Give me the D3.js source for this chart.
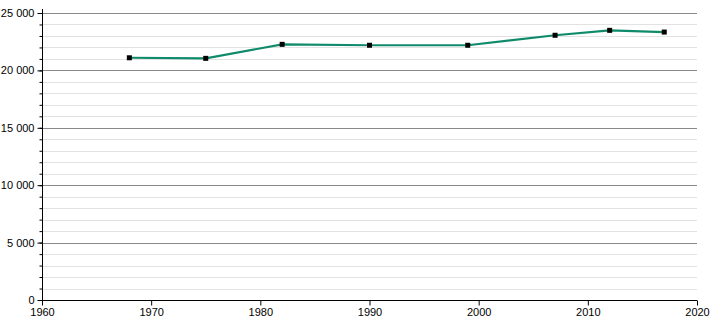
<!DOCTYPE html>
<html>
<head>
<meta charset="utf-8">
<style>
    body { margin: 0; background: #fff; }
    svg text { font-family: "Liberation Sans", Arial, sans-serif; font-size: 11px; fill: #000; }
</style>
</head>
<body>
<div id="chart"></div>
<script src="https://cdn.jsdelivr.net/npm/d3@7"></script>
<script>
    var width = 710, height = 320;
    var margin = {top: 13, right: 13, bottom: 20, left: 42};

    // census years and population
    var years = [1968, 1975, 1982, 1990, 1999, 2007, 2012, 2017];
    var population = [21100, 21050, 22270, 22190, 22190, 23060, 23490, 23340];

    var xTicks = [1960, 1970, 1980, 1990, 2000, 2010, 2020];
    var yMajor = [0, 5000, 10000, 15000, 20000, 25000];
    var yMinor = d3.range(0, 25001, 1000);

    var svg = d3.select('#chart')
        .append('svg')
        .attr('width', width)
        .attr('height', height);

    var x = d3.scaleLinear()
        .domain([1960, 2020])
        .range([margin.left, width - margin.right]);

    var y = d3.scaleLinear()
        .domain([0, 25000])
        .range([height - margin.bottom, margin.top]);

    var fmt = function(d){ return d3.format(',')(d).replace(/,/g, ' '); };

    // minor grid
    svg.append('g').selectAll('line')
        .data(yMinor.filter(function(d){ return d % 5000 != 0; }))
        .enter().append('line')
        .attr('x1', x(1960)).attr('x2', x(2020))
        .attr('y1', function(d){ return Math.round(y(d)) + 0.5; })
        .attr('y2', function(d){ return Math.round(y(d)) + 0.5; })
        .attr('stroke', '#e2e2e2');

    // major grid
    svg.append('g').selectAll('line')
        .data(yMajor.filter(function(d){ return d > 0; }))
        .enter().append('line')
        .attr('x1', x(1960)).attr('x2', x(2020))
        .attr('y1', function(d){ return Math.round(y(d)) + 0.5; })
        .attr('y2', function(d){ return Math.round(y(d)) + 0.5; })
        .attr('stroke', '#8a8a8a');

    // y axis with minor ticks
    var yAxisMinor = d3.axisLeft(y).tickValues(yMinor).tickSize(3).tickFormat('');
    svg.append('g')
        .attr('transform', 'translate(' + (x(1960) + 0.5) + ',0)')
        .call(yAxisMinor)
        .call(function(g){ g.select('.domain').remove(); });

    var yAxis = d3.axisLeft(y).tickValues(yMajor).tickSize(5).tickPadding(3).tickFormat(fmt);
    svg.append('g')
        .attr('transform', 'translate(' + (x(1960) + 0.5) + ',0)')
        .call(yAxis)
        .call(function(g){
            g.select('.domain').attr('d', 'M0,' + (margin.top - 4) + 'V' + (height - margin.bottom));
        });

    var xAxis = d3.axisBottom(x).tickValues(xTicks).tickSize(5).tickPadding(3).tickFormat(d3.format('d'));
    svg.append('g')
        .attr('transform', 'translate(0,' + (Math.round(y(0)) + 0.5) + ')')
        .call(xAxis)
        .call(function(g){ g.select('.domain').attr('d', 'M' + x(1960) + ',0H' + x(2020)); });

    svg.selectAll('.tick text').style('font-size', '11px').attr('fill', '#000');
    svg.selectAll('.domain, .tick line').attr('stroke', '#000');

    var pts = years.map(function(d, i){ return [d, population[i]]; });

    var line = d3.line()
        .x(function(d){ return x(d[0]); })
        .y(function(d){ return y(d[1]); });

    svg.append('path')
        .attr('d', line(pts))
        .attr('fill', 'none')
        .attr('stroke', '#0f8a6a')
        .attr('stroke-width', 2.2);

    svg.append('g').selectAll('rect')
        .data(pts)
        .enter().append('rect')
        .attr('x', function(d){ return x(d[0]) - 2.5; })
        .attr('y', function(d){ return y(d[1]) - 2.5; })
        .attr('width', 5)
        .attr('height', 5)
        .attr('fill', '#000');
</script>
</body>
</html>
